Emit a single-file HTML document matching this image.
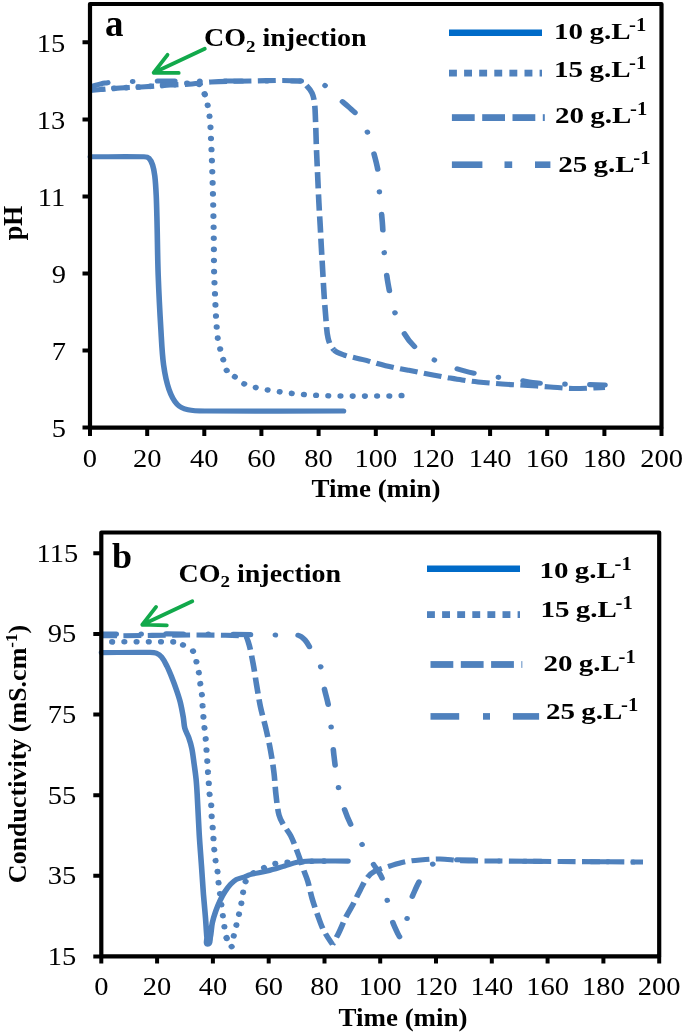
<!DOCTYPE html><html><head><meta charset="utf-8"><style>html,body{margin:0;padding:0;background:#fff;overflow:hidden;width:685px;height:1033px;}svg{display:block;will-change:transform;}text{font-family:"Liberation Serif",serif;fill:#000;}</style></head><body>
<svg width="685" height="1033" viewBox="0 0 685 1033">
<rect width="685" height="1033" fill="#fff"/>
<g transform="scale(1.1,1)">
<path d="M81.82,87.00 C86.36,85.67 90.77,83.68 95.45,83.00 C103.57,81.83 111.81,81.78 120.00,81.50 C131.51,81.11 143.03,81.06 154.55,81.00 C172.73,80.90 190.91,81.00 209.09,81.00 C230.30,81.00 251.52,80.86 272.73,81.00" fill="none" stroke="#4F81BD" stroke-linecap="round" stroke-linejoin="round" stroke-width="5.1" stroke-dasharray="15.70 22.65 0.01 22.65" stroke-dashoffset="59.95"/>
<path d="M272.73,81.00 C277.58,81.03 282.56,80.37 287.27,81.50 C290.96,82.39 294.33,84.51 297.27,86.90 C300.79,89.76 303.19,93.77 306.36,97.00 C309.95,100.64 313.92,103.89 317.55,107.50 C320.29,110.23 323.29,112.79 325.45,116.00 C328.76,120.89 331.67,126.11 333.82,131.60 C336.39,138.18 337.84,145.15 339.55,152.00 C341.11,158.29 342.77,164.58 343.64,171.00 C344.57,177.92 344.38,184.94 344.91,191.90 C345.68,201.94 346.82,211.95 347.55,222.00 C348.27,232.09 348.42,242.22 349.27,252.30 C350.15,262.66 351.08,273.03 352.73,283.30 C354.29,293.03 356.14,302.75 358.91,312.20 C361.01,319.37 363.81,326.38 367.27,333.00 C369.82,337.89 372.89,342.63 376.82,346.50 C382.03,351.64 387.92,356.23 394.36,359.70 C403.14,364.43 412.55,368.01 422.09,370.90 C431.63,373.79 441.57,375.17 451.36,377.00 C457.84,378.21 464.40,378.96 470.91,380.00 C476.98,380.96 482.98,382.39 489.09,383.00 C496.34,383.72 503.63,383.74 510.91,384.00 C517.88,384.24 524.85,384.32 531.82,384.50 C537.88,384.66 543.94,384.83 550.00,385.00" fill="none" stroke="#4F81BD" stroke-linecap="round" stroke-linejoin="round" stroke-width="5.1" stroke-dasharray="15.70 22.65 0.01 22.65" stroke-dashoffset="14.56"/>
<path d="M81.82,90.50 C90.91,89.67 99.99,88.69 109.09,88.00 C116.66,87.42 124.25,87.20 131.82,86.70 C139.40,86.20 146.96,85.48 154.55,85.00 C161.21,84.58 167.89,84.54 174.55,84.00 C180.32,83.53 186.03,82.33 191.82,82.00 C203.62,81.33 215.45,81.15 227.27,81.00 C242.42,80.81 257.62,79.81 272.73,81.00" fill="none" stroke="#4F81BD" stroke-linecap="butt" stroke-linejoin="round" stroke-width="5.1" stroke-dasharray="16.30 5.86" stroke-dashoffset="2.16"/>
<path d="M272.73,81.00 C274.98,81.18 276.67,83.33 278.18,85.00 C280.35,87.39 282.36,90.03 283.64,93.00 C284.98,96.14 285.51,99.61 285.91,103.00 C286.57,108.64 286.60,114.33 286.82,120.00 C287.20,130.00 287.38,140.00 287.73,150.00 C287.98,157.34 288.33,164.67 288.64,172.00 C289.06,182.30 289.44,192.60 289.91,202.90 C290.25,210.44 290.71,217.97 291.09,225.50 C291.47,233.07 291.80,240.63 292.18,248.20 C292.56,255.73 292.97,263.27 293.36,270.80 C293.76,278.37 294.09,285.94 294.55,293.50 C295.00,301.04 295.46,308.58 296.09,316.10 C296.73,323.64 296.72,331.31 298.36,338.70 C299.27,342.76 300.89,346.88 303.64,350.00" fill="none" stroke="#4F81BD" stroke-linecap="butt" stroke-linejoin="round" stroke-width="5.1" stroke-dasharray="16.30 5.86" stroke-dashoffset="14.69"/>
<path d="M303.64,350.00 C305.92,352.59 309.48,353.82 312.73,355.00 C318.33,357.04 324.27,357.98 330.00,359.60 C336.87,361.54 343.63,363.92 350.55,365.70 C357.33,367.45 364.24,368.72 371.09,370.20 C378.60,371.82 386.11,373.44 393.64,375.00 C398.17,375.94 402.72,376.84 407.27,377.70 C411.51,378.50 415.74,379.33 420.00,380.00 C424.83,380.76 429.68,381.46 434.55,382.00 C441.80,382.80 449.08,383.44 456.36,384.00 C464.23,384.61 472.12,384.96 480.00,385.50 C486.67,385.96 493.33,386.51 500.00,387.00 C506.97,387.51 513.92,388.43 520.91,388.50 C530.61,388.60 540.30,387.83 550.00,387.50" fill="none" stroke="#4F81BD" stroke-linecap="butt" stroke-linejoin="round" stroke-width="5.1" stroke-dasharray="16.30 5.86" stroke-dashoffset="3.28"/>
<path d="M81.82,90.00 C90.91,89.33 100.00,88.60 109.09,88.00 C116.66,87.50 124.25,87.20 131.82,86.70 C139.40,86.20 146.96,85.37 154.55,85.00 C163.33,84.57 172.49,81.77 180.91,84.30 C184.57,85.40 185.08,90.84 186.18,94.50" fill="none" stroke="#4F81BD" stroke-linecap="round" stroke-linejoin="round" stroke-width="5.6" stroke-dasharray="0.01 11.09" stroke-dashoffset="0.25"/>
<path d="M186.18,94.50 C188.29,101.50 189.54,108.75 190.45,116.00 C191.42,123.62 191.47,131.33 191.82,139.00 C192.32,150.00 192.67,161.00 193.00,172.00 C193.33,183.00 193.59,194.00 193.82,205.00 C194.05,216.33 194.23,227.67 194.36,239.00 C194.50,250.00 194.42,261.00 194.64,272.00 C194.78,279.34 195.17,286.67 195.45,294.00 C195.74,301.33 195.94,308.67 196.36,316.00 C196.79,323.51 197.13,331.03 198.00,338.50 C198.43,342.19 199.43,345.79 200.27,349.40 C201.12,353.02 202.07,356.62 203.09,360.20 C204.13,363.83 204.40,367.84 206.45,371.00" fill="none" stroke="#4F81BD" stroke-linecap="round" stroke-linejoin="round" stroke-width="5.6" stroke-dasharray="0.01 11.09" stroke-dashoffset="11.07"/>
<path d="M206.45,371.00 C208.32,373.86 211.72,375.34 214.36,377.50 C217.15,379.77 219.57,382.58 222.73,384.30 C225.92,386.04 229.59,386.74 233.09,387.70 C236.50,388.64 239.98,389.33 243.45,390.00 C247.23,390.73 251.02,391.31 254.82,391.90 C258.27,392.44 261.72,392.98 265.18,393.40 C268.84,393.85 272.51,394.18 276.18,394.50 C279.87,394.82 283.57,395.13 287.27,395.30 C294.54,395.63 301.81,395.92 309.09,396.00 C323.64,396.16 338.18,396.13 352.73,396.00 C357.28,395.96 361.82,395.67 366.36,395.50" fill="none" stroke="#4F81BD" stroke-linecap="round" stroke-linejoin="round" stroke-width="5.6" stroke-dasharray="0.01 11.09" stroke-dashoffset="1.97"/>
<path d="M82.18,156.80 C98.42,156.80 114.67,156.37 130.91,156.80 C132.49,156.84 134.36,157.05 135.45,158.20 C137.19,160.02 138.01,162.59 138.73,165.00 C139.79,168.57 140.32,172.30 140.73,176.00 C141.42,182.31 141.72,188.66 142.00,195.00 C142.38,203.66 142.53,212.33 142.73,221.00 C143.14,239.17 143.23,257.34 143.82,275.50 C144.41,293.58 145.28,311.64 146.27,329.70 C146.92,341.48 147.28,353.29 148.73,365.00 C149.74,373.23 151.15,381.49 153.64,389.40 C155.30,394.70 157.49,400.07 161.09,404.30 C163.51,407.14 167.28,408.80 170.91,409.70 C176.51,411.09 182.41,410.95 188.18,411.00 C229.54,411.38 270.91,411.00 312.27,411.00" fill="none" stroke="#4F81BD" stroke-linecap="round" stroke-linejoin="round" stroke-width="5.1"/>
</g>
<path d="M90,4 H661.5 V427.6 H90 Z" fill="none" stroke="#000" stroke-width="4.2" stroke-linejoin="round"/>
<text transform="translate(65.9,437.2) scale(1.14,1)" text-anchor="end" font-size="25" font-weight="normal">5</text>
<text transform="translate(65.9,360.1) scale(1.14,1)" text-anchor="end" font-size="25" font-weight="normal">7</text>
<text transform="translate(65.9,283.1) scale(1.14,1)" text-anchor="end" font-size="25" font-weight="normal">9</text>
<text transform="translate(65.2,206.0) scale(1.14,1)" text-anchor="end" font-size="25" font-weight="normal">11</text>
<text transform="translate(65.2,129.0) scale(1.14,1)" text-anchor="end" font-size="25" font-weight="normal">13</text>
<text transform="translate(65.2,51.9) scale(1.14,1)" text-anchor="end" font-size="25" font-weight="normal">15</text>
<text transform="translate(90.0,467.0) scale(1.14,1)" text-anchor="middle" font-size="25" font-weight="normal">0</text>
<text transform="translate(147.2,467.0) scale(1.14,1)" text-anchor="middle" font-size="25" font-weight="normal">20</text>
<text transform="translate(204.3,467.0) scale(1.14,1)" text-anchor="middle" font-size="25" font-weight="normal">40</text>
<text transform="translate(261.4,467.0) scale(1.14,1)" text-anchor="middle" font-size="25" font-weight="normal">60</text>
<text transform="translate(318.6,467.0) scale(1.14,1)" text-anchor="middle" font-size="25" font-weight="normal">80</text>
<text transform="translate(375.8,467.0) scale(1.14,1)" text-anchor="middle" font-size="25" font-weight="normal">100</text>
<text transform="translate(432.9,467.0) scale(1.14,1)" text-anchor="middle" font-size="25" font-weight="normal">120</text>
<text transform="translate(490.1,467.0) scale(1.14,1)" text-anchor="middle" font-size="25" font-weight="normal">140</text>
<text transform="translate(547.2,467.0) scale(1.14,1)" text-anchor="middle" font-size="25" font-weight="normal">160</text>
<text transform="translate(604.4,467.0) scale(1.14,1)" text-anchor="middle" font-size="25" font-weight="normal">180</text>
<text transform="translate(661.5,467.0) scale(1.14,1)" text-anchor="middle" font-size="25" font-weight="normal">200</text>
<path d="M82.5,427.6 H90 M82.5,350.5 H90 M82.5,273.5 H90 M82.5,196.4 H90 M82.5,119.4 H90 M82.5,42.3 H90 M90.0,427.6 V436.1 M147.2,427.6 V436.1 M204.3,427.6 V436.1 M261.4,427.6 V436.1 M318.6,427.6 V436.1 M375.8,427.6 V436.1 M432.9,427.6 V436.1 M490.1,427.6 V436.1 M547.2,427.6 V436.1 M604.4,427.6 V436.1 M661.5,427.6 V436.1" stroke="#000" stroke-width="4"/>
<text transform="translate(376,496.6) scale(1.1,1)" text-anchor="middle" font-size="24.5" font-weight="bold">Time (min)</text>
<text transform="translate(21.5,223) rotate(-90) scale(1,1.07)" text-anchor="middle" font-size="26" font-weight="bold">pH</text>
<text x="105" y="35.8" font-size="37" font-weight="bold">a</text>
<line x1="449" y1="32.7" x2="542" y2="32.7" stroke="#006BC8" stroke-width="6.6"/>
<rect x="449.0" y="69.7" width="7.9" height="6.8" fill="#4F81BD"/>
<rect x="464.1" y="69.7" width="7.9" height="6.8" fill="#4F81BD"/>
<rect x="479.2" y="69.7" width="7.9" height="6.8" fill="#4F81BD"/>
<rect x="494.3" y="69.7" width="7.9" height="6.8" fill="#4F81BD"/>
<rect x="509.4" y="69.7" width="7.9" height="6.8" fill="#4F81BD"/>
<rect x="524.5" y="69.7" width="7.9" height="6.8" fill="#4F81BD"/>
<rect x="539.6" y="69.7" width="2.4" height="6.8" fill="#4F81BD"/>
<rect x="451.9" y="114.2" width="22.8" height="6.8" fill="#4F81BD"/>
<rect x="482.2" y="114.2" width="22.8" height="6.8" fill="#4F81BD"/>
<rect x="512.5" y="114.2" width="22.8" height="6.8" fill="#4F81BD"/>
<rect x="542.8" y="114.2" width="2.0" height="6.8" fill="#4F81BD"/>
<rect x="451.9" y="161.4" width="30.5" height="6.6" fill="#4F81BD"/>
<rect x="504.5" y="161.4" width="7.7" height="6.6" fill="#4F81BD"/>
<rect x="535.0" y="161.4" width="15.4" height="6.6" fill="#4F81BD"/>
<text transform="translate(554.1,38.6) scale(1.22,1)" font-size="23.8" font-weight="bold">10<tspan dx="-0.8"> g.L</tspan></text><text transform="translate(629.1,30.5) scale(1.09,1)" font-size="19" font-weight="bold">-1</text>
<text transform="translate(554.1,77.4) scale(1.22,1)" font-size="23.8" font-weight="bold">15<tspan dx="-0.8"> g.L</tspan></text><text transform="translate(629.1,69.3) scale(1.09,1)" font-size="19" font-weight="bold">-1</text>
<text transform="translate(555.0,122.6) scale(1.22,1)" font-size="23.8" font-weight="bold">20<tspan dx="-0.8"> g.L</tspan></text><text transform="translate(630.0,114.5) scale(1.09,1)" font-size="19" font-weight="bold">-1</text>
<text transform="translate(558.3,171.8) scale(1.22,1)" font-size="23.8" font-weight="bold">25<tspan dx="-0.8"> g.L</tspan></text><text transform="translate(633.3,163.7) scale(1.09,1)" font-size="19" font-weight="bold">-1</text>
<text transform="translate(204.0,46.0) scale(1.12,1)" font-size="25" font-weight="bold">CO<tspan font-size="17" dy="5.5">2</tspan><tspan dy="-5.5"> injection</tspan></text>
<path d="M204.8,48.7 L153.7,72.7 M167.5,54.8 L153.7,72.7 L178.7,72.9" fill="none" stroke="#12A94B" stroke-width="3.8" stroke-linecap="round" stroke-linejoin="round"/>
<g transform="scale(1.1,1)">
<path d="M92.27,634.00 C122.12,634.00 151.97,633.81 181.82,634.00 C204.55,634.14 227.27,634.67 250.00,635.00 C256.97,635.10 264.05,634.04 270.91,635.30" fill="none" stroke="#4F81BD" stroke-linecap="round" stroke-linejoin="round" stroke-width="5.1" stroke-dasharray="15.70 22.65 0.01 22.65" stroke-dashoffset="2.29"/>
<path d="M270.91,635.30 C273.50,635.78 275.59,637.97 277.27,640.00 C279.61,642.81 281.01,646.28 282.73,649.50 C285.76,655.18 289.61,660.56 291.55,666.70 C293.60,673.22 293.33,680.27 294.55,687.00 C295.70,693.38 297.60,699.60 298.64,706.00 C299.76,712.92 300.30,719.92 301.00,726.90 C301.97,736.59 302.57,746.32 303.64,756.00 C304.78,766.36 305.84,776.74 307.64,787.00 C308.88,794.10 310.65,801.10 312.73,808.00 C314.47,813.79 316.61,819.48 319.09,825.00 C322.01,831.50 325.64,837.66 328.91,844.00 C332.00,850.00 334.97,856.06 338.18,862.00 C341.10,867.40 345.18,872.24 347.27,878.00 C349.84,885.05 350.41,892.67 352.00,900.00 C353.44,906.67 354.47,913.44 356.36,920.00 C357.75,924.81 359.82,929.41 361.82,934.00 C362.80,936.25 364.93,939.85 365.27,940.50" fill="none" stroke="#4F81BD" stroke-linecap="round" stroke-linejoin="round" stroke-width="5.1" stroke-dasharray="15.70 22.65 0.01 22.65" stroke-dashoffset="60.94"/>
<path d="M365.27,940.50 C365.65,938.85 367.97,929.53 369.09,924.00 C370.57,916.70 371.27,909.23 373.09,902.00 C374.31,897.19 376.33,892.61 378.18,888.00 C379.55,884.60 381.21,881.33 382.73,878.00 C384.24,874.67 385.02,870.89 387.27,868.00 C388.81,866.02 391.36,865.05 393.64,864.00 C397.15,862.37 400.68,860.19 404.55,860.00 C421.20,859.18 437.88,860.76 454.55,861.00 C472.73,861.26 490.91,861.36 509.09,861.50 C534.24,861.69 559.39,861.83 584.55,862.00" fill="none" stroke="#4F81BD" stroke-linecap="round" stroke-linejoin="round" stroke-width="5.1" stroke-dasharray="15.70 22.65 0.01 22.65" stroke-dashoffset="15.82"/>
<path d="M92.27,635.80 C135.45,635.80 178.67,634.12 221.82,635.80" fill="none" stroke="#4F81BD" stroke-linecap="butt" stroke-linejoin="round" stroke-width="5.1" stroke-dasharray="16.30 5.86" stroke-dashoffset="2.24"/>
<path d="M221.82,635.80 C223.93,635.88 224.85,638.97 225.45,641.00 C227.61,648.17 228.69,655.63 230.00,663.00 C231.30,670.30 232.14,677.67 233.27,685.00 C234.41,692.34 235.40,699.71 236.82,707.00 C238.25,714.38 240.28,721.64 241.82,729.00 C243.34,736.24 244.79,743.50 246.00,750.80 C247.22,758.17 248.27,765.57 249.09,773.00 C249.90,780.31 250.12,787.68 250.91,795.00 C251.63,801.69 252.19,808.43 253.64,815.00 C254.33,818.16 255.79,821.12 257.27,824.00 C259.35,828.04 262.39,831.56 264.27,835.70 C267.11,841.94 269.14,848.52 271.36,855.00 C272.99,859.72 274.29,864.55 275.82,869.30 C277.08,873.21 278.65,877.03 279.73,881.00 C281.29,886.78 282.18,892.72 283.73,898.50 C285.31,904.43 287.17,910.28 289.09,916.10 C290.71,921.01 292.19,926.01 294.36,930.70 C296.60,935.51 301.48,943.12 302.27,944.50" fill="none" stroke="#4F81BD" stroke-linecap="butt" stroke-linejoin="round" stroke-width="5.1" stroke-dasharray="16.30 5.86" stroke-dashoffset="0.48"/>
<path d="M302.27,944.50 C302.81,943.41 305.99,937.30 307.64,933.60 C309.99,928.30 311.87,922.78 314.27,917.50 C316.30,913.04 318.79,908.81 320.91,904.40 C323.22,899.58 325.22,894.62 327.55,889.80 C329.47,885.81 331.07,881.61 333.64,878.00 C335.59,875.26 337.99,872.67 340.91,871.00 C345.11,868.59 349.96,867.56 354.55,866.00 C358.75,864.56 362.93,862.96 367.27,862.00 C372.05,860.95 376.94,860.45 381.82,860.00 C387.86,859.45 393.93,858.90 400.00,859.00 C406.39,859.10 412.71,860.37 419.09,860.60 C430.90,861.03 442.73,860.88 454.55,861.00 C472.73,861.18 490.91,861.36 509.09,861.50 C534.24,861.69 559.39,861.83 584.55,862.00" fill="none" stroke="#4F81BD" stroke-linecap="butt" stroke-linejoin="round" stroke-width="5.1" stroke-dasharray="16.30 5.86" stroke-dashoffset="14.40"/>
<path d="M92.27,641.90 C114.00,641.90 135.73,641.50 157.45,641.90 C159.12,641.93 160.71,642.64 162.27,643.20" fill="none" stroke="#4F81BD" stroke-linecap="round" stroke-linejoin="round" stroke-width="5.6" stroke-dasharray="0.01 11.09" stroke-dashoffset="1.42"/>
<path d="M162.27,643.20 C163.99,643.81 165.71,644.46 167.27,645.40 C170.12,647.11 173.56,648.37 175.45,651.10 C177.55,654.13 177.66,658.13 178.55,661.70 C179.42,665.27 180.14,668.87 180.73,672.50 C181.33,676.21 181.62,679.97 182.09,683.70 C182.55,687.34 183.20,690.95 183.55,694.60 C183.90,698.32 183.95,702.07 184.18,705.80 C184.41,709.40 184.63,713.00 184.91,716.60 C185.20,720.37 185.55,724.14 185.91,727.90 C186.25,731.54 186.70,735.16 187.00,738.80 C187.31,742.50 187.49,746.20 187.73,749.90 C187.97,753.63 188.22,757.37 188.45,761.10 C188.68,764.73 188.87,768.37 189.09,772.00 C189.32,775.73 189.57,779.47 189.82,783.20 C190.06,786.90 190.18,790.61 190.55,794.30 C190.90,797.88 191.69,801.41 192.00,805.00 C192.33,808.89 192.22,812.80 192.45,816.70 C192.68,820.37 193.09,824.03 193.36,827.70 C193.64,831.43 193.85,835.17 194.09,838.90 C194.33,842.53 194.50,846.17 194.82,849.80 C195.14,853.54 195.50,857.28 196.00,861.00 C196.50,864.72 197.36,868.38 197.82,872.10 C198.27,875.78 198.36,879.51 198.73,883.20 C199.08,886.77 199.58,890.33 200.00,893.90 C200.88,901.30 201.74,908.70 202.64,916.10 C203.07,919.67 203.45,923.25 204.00,926.80 C204.57,930.52 205.01,934.27 206.00,937.90" fill="none" stroke="#4F81BD" stroke-linecap="round" stroke-linejoin="round" stroke-width="5.6" stroke-dasharray="0.01 11.09" stroke-dashoffset="6.66"/>
<path d="M206.00,937.90 C206.87,941.07 206.34,947.81 209.55,947.10 C213.12,946.31 211.50,940.05 212.36,936.50 C213.26,932.79 213.99,929.03 214.82,925.30 C215.60,921.77 216.44,918.24 217.18,914.70 C217.95,911.01 218.73,907.32 219.36,903.60 C219.97,900.05 220.32,896.45 220.91,892.90 C221.50,889.35 221.54,885.63 222.91,882.30 C224.15,879.28 226.13,876.49 228.55,874.30 C231.03,872.05 234.31,870.87 237.27,869.30 C240.62,867.53 243.85,865.45 247.45,864.30 C250.72,863.26 254.23,863.18 257.64,862.80 C262.65,862.24 267.68,861.71 272.73,861.50 C281.81,861.11 290.91,861.17 300.00,861.00" fill="none" stroke="#4F81BD" stroke-linecap="round" stroke-linejoin="round" stroke-width="5.6" stroke-dasharray="0.01 11.09" stroke-dashoffset="10.48"/>
<path d="M92.27,652.60 C106.97,652.53 121.67,652.22 136.36,652.40 C138.26,652.42 140.26,652.44 142.00,653.20 C143.90,654.03 145.67,655.34 146.91,657.00 C149.01,659.81 150.37,663.11 151.82,666.30 C153.43,669.85 154.75,673.53 156.09,677.20 C157.57,681.27 158.98,685.37 160.27,689.50 C161.56,693.60 162.86,697.71 163.82,701.90 C164.99,707.02 165.81,712.21 166.64,717.40 C167.21,720.98 167.14,724.68 168.00,728.20 C168.79,731.42 170.55,734.34 171.55,737.50 C172.67,741.08 173.68,744.71 174.36,748.40 C175.31,753.49 175.80,758.66 176.45,763.80 C177.11,768.96 177.80,774.12 178.27,779.30 C178.74,784.46 179.01,789.63 179.27,794.80 C179.94,807.80 180.38,820.81 181.09,833.80 C181.68,844.54 182.50,855.27 183.18,866.00 C183.80,875.67 184.32,885.34 185.00,895.00 C185.54,902.67 186.26,910.33 186.82,918.00 C187.29,924.46 187.55,930.94 188.09,937.40 C188.28,939.68 186.71,944.20 189.00,944.20 C191.38,944.20 190.74,939.74 191.18,937.40 C192.08,932.61 192.10,927.69 193.00,922.90 C193.74,918.97 194.89,915.12 196.09,911.30 C197.22,907.71 198.52,904.16 200.00,900.70 C201.28,897.69 202.70,894.72 204.36,891.90 C205.95,889.21 207.70,886.58 209.73,884.20 C211.27,882.39 212.95,880.60 215.00,879.40 C217.13,878.15 219.70,877.90 222.00,877.00 C223.80,876.30 225.42,875.13 227.27,874.60 C232.41,873.12 237.75,872.41 242.91,871.00 C248.24,869.54 253.46,867.69 258.73,866.00 C262.49,864.79 266.14,863.14 270.00,862.30 C273.69,861.50 277.50,861.20 281.27,861.10 C292.97,860.80 304.67,861.10 316.36,861.10" fill="none" stroke="#4F81BD" stroke-linecap="round" stroke-linejoin="round" stroke-width="5.1"/>
</g>
<path d="M101.3,532.5 H659.2 V956.4 H101.3 Z" fill="none" stroke="#000" stroke-width="4.2" stroke-linejoin="round"/>
<text transform="translate(76.3,964.7) scale(1.14,1)" text-anchor="end" font-size="25" font-weight="normal">15</text>
<text transform="translate(76.3,884.1) scale(1.14,1)" text-anchor="end" font-size="25" font-weight="normal">35</text>
<text transform="translate(76.3,803.5) scale(1.14,1)" text-anchor="end" font-size="25" font-weight="normal">55</text>
<text transform="translate(76.3,722.8) scale(1.14,1)" text-anchor="end" font-size="25" font-weight="normal">75</text>
<text transform="translate(76.3,642.2) scale(1.14,1)" text-anchor="end" font-size="25" font-weight="normal">95</text>
<text transform="translate(78.2,561.6) scale(1.14,1)" text-anchor="end" font-size="25" font-weight="normal">115</text>
<text transform="translate(101.3,994.5) scale(1.14,1)" text-anchor="middle" font-size="25" font-weight="normal">0</text>
<text transform="translate(157.1,994.5) scale(1.14,1)" text-anchor="middle" font-size="25" font-weight="normal">20</text>
<text transform="translate(212.9,994.5) scale(1.14,1)" text-anchor="middle" font-size="25" font-weight="normal">40</text>
<text transform="translate(268.7,994.5) scale(1.14,1)" text-anchor="middle" font-size="25" font-weight="normal">60</text>
<text transform="translate(324.5,994.5) scale(1.14,1)" text-anchor="middle" font-size="25" font-weight="normal">80</text>
<text transform="translate(380.2,994.5) scale(1.14,1)" text-anchor="middle" font-size="25" font-weight="normal">100</text>
<text transform="translate(436.0,994.5) scale(1.14,1)" text-anchor="middle" font-size="25" font-weight="normal">120</text>
<text transform="translate(491.8,994.5) scale(1.14,1)" text-anchor="middle" font-size="25" font-weight="normal">140</text>
<text transform="translate(547.6,994.5) scale(1.14,1)" text-anchor="middle" font-size="25" font-weight="normal">160</text>
<text transform="translate(603.4,994.5) scale(1.14,1)" text-anchor="middle" font-size="25" font-weight="normal">180</text>
<text transform="translate(659.2,994.5) scale(1.14,1)" text-anchor="middle" font-size="25" font-weight="normal">200</text>
<path d="M93.3,956.4 H101.3 M93.3,875.8 H101.3 M93.3,795.2 H101.3 M93.3,714.5 H101.3 M93.3,633.9 H101.3 M93.3,553.3 H101.3 M101.3,956.4 V963.4 M157.1,956.4 V963.4 M212.9,956.4 V963.4 M268.7,956.4 V963.4 M324.5,956.4 V963.4 M380.2,956.4 V963.4 M436.0,956.4 V963.4 M491.8,956.4 V963.4 M547.6,956.4 V963.4 M603.4,956.4 V963.4 M659.2,956.4 V963.4" stroke="#000" stroke-width="4"/>
<text transform="translate(403,1025.5) scale(1.1,1)" text-anchor="middle" font-size="24.5" font-weight="bold">Time (min)</text>
<text transform="translate(26,754) rotate(-90) scale(1,1.0)" text-anchor="middle" font-size="26" font-weight="bold">Conductivity (mS.cm<tspan font-size="17" dy="-9">-1</tspan><tspan dy="9">)</tspan></text>
<text x="112" y="567.9" font-size="36" font-weight="bold">b</text>
<line x1="427" y1="568.8" x2="520" y2="568.8" stroke="#006BC8" stroke-width="6.6"/>
<rect x="427.0" y="611.2" width="7.9" height="6.8" fill="#4F81BD"/>
<rect x="442.1" y="611.2" width="7.9" height="6.8" fill="#4F81BD"/>
<rect x="457.2" y="611.2" width="7.9" height="6.8" fill="#4F81BD"/>
<rect x="472.3" y="611.2" width="7.9" height="6.8" fill="#4F81BD"/>
<rect x="487.4" y="611.2" width="7.9" height="6.8" fill="#4F81BD"/>
<rect x="502.5" y="611.2" width="7.9" height="6.8" fill="#4F81BD"/>
<rect x="517.6" y="611.2" width="2.4" height="6.8" fill="#4F81BD"/>
<rect x="430.5" y="661.1" width="22.8" height="6.8" fill="#4F81BD"/>
<rect x="460.8" y="661.1" width="22.8" height="6.8" fill="#4F81BD"/>
<rect x="491.1" y="661.1" width="22.8" height="6.8" fill="#4F81BD"/>
<rect x="521.4" y="661.1" width="0.9" height="6.8" fill="#4F81BD"/>
<rect x="430.5" y="713.1" width="28.7" height="6.6" fill="#4F81BD"/>
<rect x="483.0" y="713.1" width="7.0" height="6.6" fill="#4F81BD"/>
<rect x="512.9" y="713.1" width="26.2" height="6.6" fill="#4F81BD"/>
<text transform="translate(539.5,577.6) scale(1.22,1)" font-size="23.8" font-weight="bold">10<tspan dx="-0.8"> g.L</tspan></text><text transform="translate(614.5,569.5) scale(1.09,1)" font-size="19" font-weight="bold">-1</text>
<text transform="translate(540.5,617.4) scale(1.22,1)" font-size="23.8" font-weight="bold">15<tspan dx="-0.8"> g.L</tspan></text><text transform="translate(615.5,609.3) scale(1.09,1)" font-size="19" font-weight="bold">-1</text>
<text transform="translate(543.5,670.8) scale(1.22,1)" font-size="23.8" font-weight="bold">20<tspan dx="-0.8"> g.L</tspan></text><text transform="translate(618.5,662.7) scale(1.09,1)" font-size="19" font-weight="bold">-1</text>
<text transform="translate(546.0,718.8) scale(1.22,1)" font-size="23.8" font-weight="bold">25<tspan dx="-0.8"> g.L</tspan></text><text transform="translate(621.0,710.7) scale(1.09,1)" font-size="19" font-weight="bold">-1</text>
<text transform="translate(178.5,581.5) scale(1.12,1)" font-size="25" font-weight="bold">CO<tspan font-size="17" dy="5.5">2</tspan><tspan dy="-5.5"> injection</tspan></text>
<path d="M192.3,601.2 L142.3,624.7 M156.1,606.9 L142.3,624.7 L166.8,625.3" fill="none" stroke="#12A94B" stroke-width="3.8" stroke-linecap="round" stroke-linejoin="round"/>
</svg></body></html>
